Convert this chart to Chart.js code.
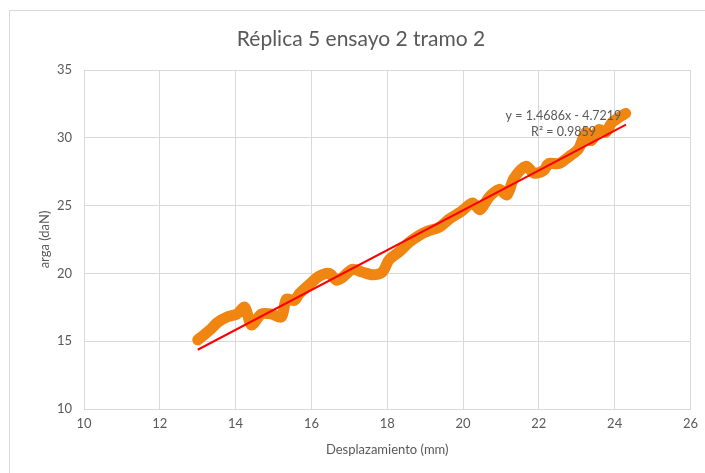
<!DOCTYPE html>
<html>
<head>
<meta charset="utf-8">
<script src="https://cdn.jsdelivr.net/npm/chart.js@4"></script>
<style>
  html, body { margin: 0; padding: 0; background: #fff; }
  #wrap { width: 705px; height: 473px; }
</style>
</head>
<body>
<div id="wrap"><canvas id="chart" width="705" height="473"></canvas></div>
<script>
// ===== Data =====
const dispX = [
  13.0, 13.18, 13.35, 13.53, 13.79, 14.03, 14.24, 14.42, 14.68, 14.95,
  15.21, 15.34, 15.55, 15.68, 15.95, 16.21, 16.47, 16.66, 16.82, 17.08,
  17.34, 17.61, 17.87, 18.05, 18.32, 18.58, 18.84, 19.05, 19.37, 19.63,
  19.97, 20.25, 20.45, 20.68, 20.95, 21.16, 21.34, 21.66, 21.87, 22.13,
  22.26, 22.53, 22.79, 23.05, 23.24, 23.39, 23.58, 23.76, 23.92, 24.11,
  24.29
];
const loadY = [
  15.1, 15.5, 15.9, 16.4, 16.8, 17.0, 17.5, 16.2, 17.0, 17.0,
  16.8, 18.1, 18.0, 18.5, 19.2, 19.8, 20.0, 19.5, 19.7, 20.3,
  20.1, 19.9, 20.1, 21.0, 21.6, 22.3, 22.8, 23.1, 23.4, 24.0,
  24.6, 25.2, 24.7, 25.6, 26.2, 25.8, 27.0, 27.9, 27.4, 27.6,
  28.1, 28.1, 28.6, 29.2, 30.4, 29.8, 30.6, 30.4, 31.1, 31.5,
  31.8
];
// trendline end points (y = 1.4686x - 4.7219)
const trendX = [13.0, 24.3];
const trendY = [14.37, 30.97];

const chartTitle = "Réplica 5 ensayo 2 tramo 2";
const xTitle = "Desplazamiento (mm)";
const yTitle = "arga (daN)";
const eqLines = ["y = 1.4686x - 4.7219", "R² = 0.9859"];

const textColor = "#595959";
const gridColor = "#D9D9D9";
const fontFamily = "Lato, 'Open Sans', sans-serif";

// ===== Plugin: border, title and trendline label =====
const extrasPlugin = {
  id: "extras",
  beforeDraw(chart) {
    const ctx = chart.ctx;
    ctx.save();
    ctx.fillStyle = "#fff";
    ctx.fillRect(0, 0, chart.width, chart.height);
    ctx.strokeStyle = "#D9D9D9";
    ctx.lineWidth = 1;
    ctx.strokeRect(9.5, 10.5, 800, 800);
    ctx.restore();
  },
  afterDraw(chart) {
    const ctx = chart.ctx;
    const xs = chart.scales.x;
    ctx.save();
    ctx.fillStyle = textColor;
    ctx.textAlign = "center";
    ctx.textBaseline = "middle";
    ctx.font = `21px ${fontFamily}`;
    ctx.fillText(chartTitle, 361, 39);

    ctx.font = `12.5px ${fontFamily}`;
    const cx = xs.getPixelForValue(22.65);
    ctx.fillText(eqLines[0], cx, 116);
    ctx.fillText(eqLines[1], cx, 132);
    ctx.restore();
  },
};

const ctx = document.getElementById("chart").getContext("2d");

new Chart(ctx, {
  type: "scatter",
  data: {
    datasets: [
      {
        label: "Carga",
        data: dispX.map((x, i) => ({ x: x, y: loadY[i] })),
        showLine: true,
        borderColor: "#F08512",
        backgroundColor: "#F08512",
        borderWidth: 11,
        borderCapStyle: "round",
        borderJoinStyle: "round",
        tension: 0.3,
        pointRadius: 0,
        order: 2,
      },
      {
        label: "Lineal",
        data: trendX.map((x, i) => ({ x: x, y: trendY[i] })),
        showLine: true,
        borderColor: "#FF0000",
        borderWidth: 2,
        pointRadius: 0,
        order: 1,
      },
    ],
  },
  options: {
    responsive: false,
    animation: false,
    layout: { padding: { left: 0, right: 13, top: 70, bottom: 0 } },
    plugins: {
      legend: { display: false },
      tooltip: { enabled: false },
      title: { display: false },
    },
    scales: {
      x: {
        type: "linear",
        min: 10,
        max: 26,
        ticks: {
          stepSize: 2,
          color: textColor,
          font: { family: fontFamily, size: 13 },
          padding: 7,
        },
        grid: { color: gridColor, drawTicks: false },
        border: { color: gridColor },
        title: {
          display: true,
          text: xTitle,
          color: textColor,
          font: { family: fontFamily, size: 13 },
          padding: { bottom: 15 },
        },
        afterFit(scale) {
          scale.height = 64;
        },
      },
      y: {
        type: "linear",
        min: 10,
        max: 35,
        ticks: {
          stepSize: 5,
          color: textColor,
          font: { family: fontFamily, size: 13 },
          padding: 12,
        },
        grid: { color: gridColor, drawTicks: false },
        border: { color: gridColor },
        title: {
          display: true,
          text: yTitle,
          color: textColor,
          font: { family: fontFamily, size: 13 },
          padding: { top: 37 },
        },
        afterFit(scale) {
          scale.width = 84;
        },
      },
    },
  },
  plugins: [extrasPlugin],
});
</script>
</body>
</html>
